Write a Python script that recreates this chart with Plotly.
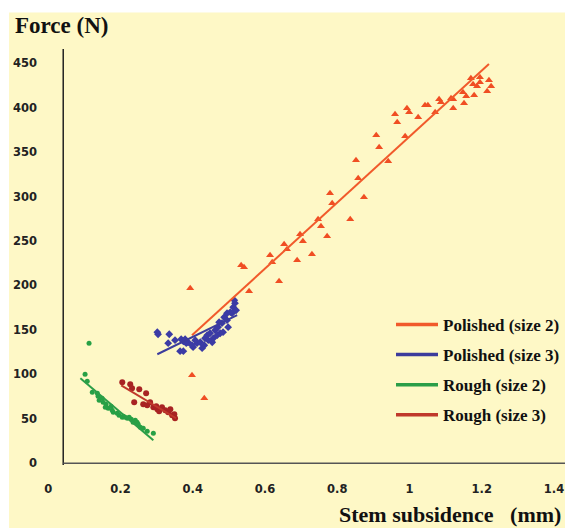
import plotly.graph_objects as go

# ---------------- data ----------------
pol2_x = [0.393, 0.398, 0.432, 0.534, 0.542, 0.556, 0.614, 0.620, 0.639, 0.653, 0.661, 0.689,
          0.697, 0.705, 0.730, 0.747, 0.755, 0.772, 0.780, 0.786, 0.836, 0.852, 0.858, 0.874,
          0.908, 0.916, 0.941, 0.960, 0.966, 0.988, 0.993, 0.999, 1.024, 1.043, 1.051, 1.071,
          1.082, 1.087, 1.115, 1.121, 1.121, 1.148, 1.157, 1.151, 1.170, 1.176, 1.187, 1.195,
          1.195, 1.179, 1.215, 1.220, 1.226]
pol2_y = [196.9, 99.0, 73.1, 222.7, 220.5, 193.5, 234.0, 226.1, 204.7, 246.3, 240.7, 228.3,
          257.6, 249.7, 235.1, 274.5, 266.6, 255.3, 303.7, 292.5, 274.5, 340.8, 320.6, 299.2,
          369.0, 355.5, 339.7, 392.6, 383.6, 367.8, 399.3, 394.8, 389.2, 402.7, 402.7, 394.8,
          409.4, 406.1, 410.6, 409.4, 399.3, 417.3, 412.8, 404.9, 433.1, 426.3, 424.1, 434.2,
          428.6, 413.9, 418.4, 430.8, 424.1]

pol3_x = [0.302, 0.304, 0.335, 0.332, 0.351, 0.368, 0.374, 0.379, 0.387, 0.365, 0.374, 0.401,
          0.412, 0.421, 0.426, 0.398, 0.434, 0.440, 0.448, 0.457, 0.454, 0.462, 0.470, 0.476,
          0.481, 0.487, 0.495, 0.498, 0.509, 0.512, 0.517, 0.520, 0.484, 0.504, 0.443, 0.468,
          0.495, 0.382, 0.407, 0.432, 0.473, 0.515]
pol3_y = [147.4, 145.1, 145.1, 135.0, 138.4, 139.5, 137.2, 139.5, 136.1, 126.0, 126.0, 130.5,
          135.0, 136.1, 129.4, 132.7, 140.6, 144.0, 146.2, 140.6, 136.1, 149.6, 153.0, 146.2,
          157.5, 164.2, 160.9, 153.0, 168.7, 175.5, 180.0, 172.1, 147.4, 169.9, 138.4, 144.0,
          168.7, 135.0, 138.4, 132.7, 158.6, 183.4]

rough2_x = [0.113, 0.102, 0.108, 0.122, 0.138, 0.141, 0.152, 0.160, 0.166, 0.174, 0.180, 0.191,
            0.196, 0.208, 0.219, 0.230, 0.235, 0.246, 0.255, 0.263, 0.274, 0.291, 0.136, 0.149,
            0.158, 0.177, 0.205, 0.213, 0.224, 0.241, 0.249]
rough2_y = [135.0, 100.1, 92.2, 79.9, 75.4, 70.9, 68.6, 66.4, 61.9, 64.1, 57.4, 56.2,
            54.0, 52.9, 50.6, 49.5, 46.1, 46.1, 40.5, 39.4, 36.0, 33.7, 78.7, 73.1,
            63.0, 59.6, 51.7, 51.7, 51.7, 48.4, 43.9]

rough3_x = [0.205, 0.227, 0.232, 0.252, 0.271, 0.238, 0.263, 0.274, 0.282, 0.291, 0.302, 0.315,
            0.324, 0.332, 0.338, 0.343, 0.351, 0.349, 0.307, 0.299]
rough3_y = [91.1, 88.9, 84.4, 83.2, 78.7, 68.6, 66.4, 65.2, 68.6, 63.0, 60.7, 63.0,
            59.6, 57.4, 60.7, 54.0, 50.6, 55.1, 58.5, 64.1]

# trend lines (end points)
pol2_fit_x, pol2_fit_y = [0.398, 1.220], [144.0, 449.0]
pol3_fit_x, pol3_fit_y = [0.302, 0.523], [122.6, 166.5]
rough2_fit_x, rough2_fit_y = [0.089, 0.291], [95.6, 25.9]
rough3_fit_x, rough3_fit_y = [0.202, 0.354], [87.7, 50.6]

series_names = ["Polished (size 2)", "Polished (size 3)", "Rough (size 2)", "Rough (size 3)"]
x_ticks = [0, 0.2, 0.4, 0.6, 0.8, 1, 1.2, 1.4]
x_tick_text = ["0", "0.2", "0.4", "0.6", "0.8", "1", "1.2", "1.4"]
y_ticks = [0, 50, 100, 150, 200, 250, 300, 350, 400, 450]
y_axis_cross_x = 0.0415
x_max = 1.4305

# ---------------- styles ----------------
line_cols = ["#F15A2B", "#3C3C9C", "#2B9E48", "#C0392B"]
mark_cols = ["#F04E23", "#3B3BA5", "#27A045", "#A82323"]
BG = "#FEF8C6"
serif = "Liberation Serif, Times New Roman, serif"
sans = "DejaVu Sans, Verdana, sans-serif"

fig = go.Figure()

points = [(pol2_x, pol2_y, "triangle-up", 7), (pol3_x, pol3_y, "diamond", 6),
          (rough2_x, rough2_y, "circle", 5), (rough3_x, rough3_y, "circle", 6)]
fits = [(pol2_fit_x, pol2_fit_y), (pol3_fit_x, pol3_fit_y),
        (rough2_fit_x, rough2_fit_y), (rough3_fit_x, rough3_fit_y)]

for i, (px, py, sym, sz) in enumerate(points):
    fig.add_trace(go.Scatter(x=px, y=py, mode="markers", showlegend=False,
                             marker=dict(symbol=sym, size=sz, color=mark_cols[i], line=dict(width=0)),
                             cliponaxis=False))
for i, (fx, fy) in enumerate(fits):
    fig.add_trace(go.Scatter(x=fx, y=fy, mode="lines", showlegend=False,
                             line=dict(color=line_cols[i], width=2)))
for i, name in enumerate(series_names):
    fig.add_trace(go.Scatter(x=[None], y=[None], mode="lines", name=name,
                             legendgroup=f"g{i}",
                             line=dict(color=line_cols[i], width=3.5)))

fig.update_layout(
    width=557, height=520,
    margin=dict(l=33, r=0, t=41, b=63),
    paper_bgcolor="white",
    plot_bgcolor="rgba(0,0,0,0)",
    showlegend=True,
    legend=dict(x=1.0, y=0.38, xanchor="right", yanchor="top", itemwidth=42,
                bgcolor="rgba(0,0,0,0)", traceorder="grouped", tracegroupgap=5,
                font=dict(family=serif, size=17, color="#111", weight="bold")),
    xaxis=dict(range=[-0.02, x_max], tickvals=x_ticks, ticktext=x_tick_text,
               showgrid=False, zeroline=False, showline=False,
               ticks="outside", ticklen=13, tickcolor="rgba(0,0,0,0)",
               tickfont=dict(family=sans, size=11.5, color="#222", weight="bold")),
    yaxis=dict(range=[-2, 466], tickvals=y_ticks, ticklabelstandoff=3,
               showgrid=False, zeroline=False, showline=False,
               ticks="", tickfont=dict(family=sans, size=11.5, color="#222", weight="bold")),
    shapes=[
        dict(type="rect", xref="paper", yref="paper", x0=-0.061, x1=1.0, y0=-0.16, y1=1.088,
             fillcolor=BG, line=dict(width=0), layer="below"),
        dict(type="line", xref="x", yref="paper", x0=y_axis_cross_x, x1=y_axis_cross_x,
             y0=0.0, y1=1.0, line=dict(color="#222", width=1.5)),
        dict(type="line", xref="x", yref="y", x0=y_axis_cross_x, x1=x_max, y0=0, y1=0,
             line=dict(color="#555", width=1.5)),
    ],
    annotations=[
        dict(text="Force (N)", xref="paper", yref="paper", x=-0.054, y=1.057,
             xanchor="left", yanchor="middle", showarrow=False,
             font=dict(family=serif, size=23, color="#111", weight="bold")),
        dict(text="Stem subsidence&nbsp;&nbsp;&nbsp;(mm)", xref="paper", yref="paper",
             x=0.996, y=-0.12, xanchor="right", yanchor="middle", showarrow=False,
             font=dict(family=serif, size=22, color="#111", weight="bold")),
    ],
)

fig.write_html("out.html")
